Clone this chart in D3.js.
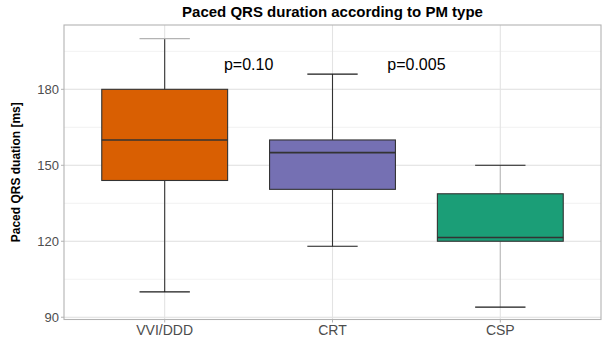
<!DOCTYPE html>
<html>
<head>
<meta charset="utf-8">
<script src="https://d3js.org/d3.v7.min.js"></script>
<style>
  body { margin: 0; background: #fff; }
  text { font-family: "Liberation Sans", Arial, sans-serif; }
</style>
</head>
<body>
<script>
  // box stats per pacing type
  var types = ["VVI/DDD", "CRT", "CSP"];
  var lowWhisker = [100, 118, 94];
  var q1 = [144, 140.5, 120];
  var median = [160, 155, 121.5];
  var q3 = [180, 160, 138.75];
  var highWhisker = [200, 186, 150];
  var fills = ["#D95F02", "#7570B3", "#1B9E77"];
  var yTicks = [90, 120, 150, 180];
  var pLabels = [{ text: "p=0.10", at: 1.5, y: 190 }, { text: "p=0.005", at: 2.5, y: 190 }];

  var W = 606, H = 352;
  var pLeft = 64, pRight = 601, pTop = 25, pBottom = 319.5;

  var svg = d3.select("body").append("svg")
      .attr("width", W).attr("height", H);

  var y = d3.scaleLinear().domain([89.1, 205.4]).range([pBottom, pTop]);
  var x = d3.scaleLinear().domain([0.4, 3.6]).range([pLeft, pRight]);
  var unit = x(1) - x(0);

  // grid
  var minor = [105, 135, 165, 195];
  svg.selectAll("line.minor").data(minor).enter().append("line")
      .attr("x1", pLeft).attr("x2", pRight)
      .attr("y1", function (d) { return y(d); }).attr("y2", function (d) { return y(d); })
      .attr("stroke", "#ededed").attr("stroke-width", 0.8);
  svg.selectAll("line.major").data(yTicks).enter().append("line")
      .attr("x1", pLeft).attr("x2", pRight)
      .attr("y1", function (d) { return y(d); }).attr("y2", function (d) { return y(d); })
      .attr("stroke", "#dedede").attr("stroke-width", 1.1);
  svg.selectAll("line.vmajor").data([1, 2, 3]).enter().append("line")
      .attr("x1", function (d) { return x(d); }).attr("x2", function (d) { return x(d); })
      .attr("y1", pTop).attr("y2", pBottom)
      .attr("stroke", "#e3e3e3").attr("stroke-width", 1.1);

  // boxes
  var boxes = svg.selectAll("g.box").data(types).enter().append("g");
  boxes.each(function (t, i) {
    var g = d3.select(this), cx = x(i + 1);
    var wcol = i === 2 ? "#bdbdbd" : "#333";
    g.append("line").attr("x1", cx).attr("x2", cx)
        .attr("y1", y(highWhisker[i])).attr("y2", y(lowWhisker[i]))
        .attr("stroke", wcol).attr("stroke-width", 1.1);
    [lowWhisker[i], highWhisker[i]].forEach(function (v, k) {
      g.append("line")
          .attr("x1", cx - unit * 0.15).attr("x2", cx + unit * 0.15)
          .attr("y1", y(v)).attr("y2", y(v))
          .attr("stroke", (i === 0 && k === 1) ? "#b3b3b3" : "#1a1a1a")
          .attr("stroke-width", 1.1);
    });
    g.append("rect")
        .attr("x", cx - unit * 0.375).attr("width", unit * 0.75)
        .attr("y", y(q3[i])).attr("height", y(q1[i]) - y(q3[i]))
        .attr("fill", fills[i]).attr("stroke", "#333").attr("stroke-width", 1.1);
    g.append("line")
        .attr("x1", cx - unit * 0.375).attr("x2", cx + unit * 0.375)
        .attr("y1", y(median[i])).attr("y2", y(median[i]))
        .attr("stroke", "#333").attr("stroke-width", 1.6);
  });

  // panel border
  svg.append("rect").attr("x", pLeft).attr("y", pTop)
      .attr("width", pRight - pLeft).attr("height", pBottom - pTop)
      .attr("fill", "none").attr("stroke", "#b3b3b3").attr("stroke-width", 1.1);

  // y axis ticks + labels
  svg.selectAll("line.yt").data(yTicks).enter().append("line")
      .attr("x1", pLeft - 3).attr("x2", pLeft)
      .attr("y1", function (d) { return y(d); }).attr("y2", function (d) { return y(d); })
      .attr("stroke", "#b3b3b3");
  svg.selectAll("text.yl").data(yTicks).enter().append("text")
      .attr("x", pLeft - 5).attr("y", function (d) { return y(d); })
      .attr("dy", "0.35em").attr("text-anchor", "end")
      .attr("font-size", 13).attr("fill", "#4d4d4d")
      .text(function (d) { return d; });

  // x axis ticks + labels
  svg.selectAll("line.xt").data(types).enter().append("line")
      .attr("x1", function (d, i) { return x(i + 1); }).attr("x2", function (d, i) { return x(i + 1); })
      .attr("y1", pBottom).attr("y2", pBottom + 3)
      .attr("stroke", "#b3b3b3");
  svg.selectAll("text.xl").data(types).enter().append("text")
      .attr("x", function (d, i) { return x(i + 1); }).attr("y", 335)
      .attr("text-anchor", "middle")
      .attr("font-size", 14).attr("fill", "#4d4d4d")
      .text(function (d) { return d; });

  // p-values
  svg.selectAll("text.p").data(pLabels).enter().append("text")
      .attr("x", function (d) { return x(d.at); }).attr("y", function (d) { return y(d.y); })
      .attr("dy", "0.35em").attr("text-anchor", "middle")
      .attr("font-size", 16).attr("fill", "#000")
      .text(function (d) { return d.text; });

  // titles
  svg.append("text").attr("x", (pLeft + pRight) / 2).attr("y", 17)
      .attr("text-anchor", "middle").attr("font-size", 15).attr("font-weight", "bold")
      .text("Paced QRS duration according to PM type");
  svg.append("text")
      .attr("transform", "translate(20," + ((pTop + pBottom) / 2) + ") rotate(-90)")
      .attr("text-anchor", "middle").attr("font-size", 12).attr("font-weight", "bold")
      .text("Paced QRS duation [ms]");
</script>
</body>
</html>
